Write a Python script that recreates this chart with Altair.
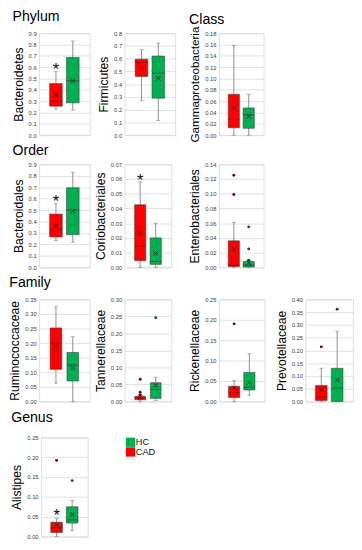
import altair as alt
import pandas as pd

GROUPS = ["CAD", "HC"]
BOX_COLORS = ["#FF0000", "#00B050"]
DARK_COLORS = ["#7A0000", "#1A5230"]
MEDIAN_COLORS = ["#8B0000", "#1F3D2A"]

# stats order: whisker low, Q1, median, Q3, whisker high, mean
bacteroidetes_cad = [0.23, 0.255, 0.30, 0.455, 0.56, 0.355]
bacteroidetes_hc = [0.22, 0.285, 0.48, 0.685, 0.83, 0.48]
firmicutes_cad = [0.27, 0.46, 0.57, 0.595, 0.67, 0.52]
firmicutes_hc = [0.115, 0.29, 0.485, 0.62, 0.72, 0.445]
gamma_cad = [0.0, 0.013, 0.028, 0.072, 0.158, 0.048]
gamma_hc = [0.0, 0.012, 0.036, 0.048, 0.072, 0.033]
bacteroidales_cad = [0.235, 0.265, 0.325, 0.465, 0.56, 0.36]
bacteroidales_hc = [0.22, 0.285, 0.50, 0.695, 0.83, 0.49]
corio_cad = [0.0, 0.0045, 0.0145, 0.0425, 0.058, 0.023]
corio_hc = [0.0, 0.002, 0.004, 0.020, 0.030, 0.0095]
entero_cad = [0.0, 0.001, 0.003, 0.036, 0.061, 0.025]
entero_hc = [0.0, 0.0005, 0.003, 0.008, 0.009, 0.006]
rumino_cad = [0.063, 0.11, 0.20, 0.252, 0.325, 0.188]
rumino_hc = [0.0, 0.07, 0.125, 0.168, 0.222, 0.115]
tannerella_cad = [0.0, 0.005, 0.010, 0.015, 0.02, 0.011]
tannerella_hc = [0.003, 0.009, 0.035, 0.055, 0.071, 0.047]
rikenella_cad = [0.0, 0.0095, 0.021, 0.037, 0.051, 0.033]
rikenella_hc = [0.015, 0.028, 0.035, 0.071, 0.117, 0.046]
prevotella_cad = [0.0, 0.004, 0.017, 0.062, 0.13, 0.045]
prevotella_hc = [0.0, 0.0, 0.052, 0.13, 0.275, 0.084]
alistipes_cad = [0.0, 0.01, 0.022, 0.036, 0.046, 0.030]
alistipes_hc = [0.015, 0.034, 0.042, 0.075, 0.091, 0.055]

# outliers
entero_out_cad = [0.125, 0.099]
entero_out_hc = [0.055, 0.025, 0.0095]
tannerella_out_cad = [0.065, 0.027, 0.019]
tannerella_out_hc = [0.246]
rikenella_out_cad = [0.19]
prevotella_out_cad = [0.214]
prevotella_out_hc = [0.361]
alistipes_out_cad = [0.192]
alistipes_out_hc = [0.141]

# significance markers (value of asterisk for CAD)
star_bacteroidetes = 0.61
star_bacteroidales = 0.605
star_corio = 0.0615
star_alistipes = 0.062

FONT = "Liberation Sans"
spacer_df = pd.DataFrame({"s": [0]})


def spacer(w=1, h=1):
    return alt.Chart(spacer_df).mark_point(opacity=0).encode(
        x=alt.value(0), y=alt.value(0)).properties(
        width=w, height=h, view=alt.ViewBackground(stroke=None))


def panel(name, cad, hc, ymax, ystep, dec, width, height, bw,
          out_cad=(), out_hc=(), star=None, section=None, sec_offset=6, title_size=12.5):
    df = pd.DataFrame({
        "g": GROUPS,
        "lo": [cad[0], hc[0]], "q1": [cad[1], hc[1]], "med": [cad[2], hc[2]],
        "q3": [cad[3], hc[3]], "hi": [cad[4], hc[4]], "mean": [cad[5], hc[5]],
    })
    gap = 1.0
    step = bw + gap
    pad = (width / step - 1) / 2
    xs = alt.X("g:N", scale=alt.Scale(type="point", domain=GROUPS, padding=pad), axis=None)
    n = int(round(ymax / ystep))
    ticks = [round(i * ystep, 4) for i in range(n + 1)]
    ysc = alt.Scale(domain=[0, ymax], nice=False, zero=True)
    yaxis = alt.Axis(values=ticks, format=f".{dec}f", labelFontSize=6, labelColor="#404040",
                     grid=True, gridColor="#D9D9D9", gridWidth=0.8, domain=False, ticks=False,
                     labelPadding=3, title=name, titleFontSize=title_size, titleFontWeight="normal",
                     titlePadding=3, titleColor="black", titleFont=FONT, labelFont=FONT)

    def Y(field):
        return alt.Y(field, type="quantitative", scale=ysc, axis=yaxis)

    base = alt.Chart(df)
    whisk = base.mark_rule(color="#8C8C8C", strokeWidth=1).encode(x=xs, y=Y("lo"), y2="hi:Q")
    cap_lo = base.mark_tick(size=4, thickness=1, color="#8C8C8C").encode(x=xs, y=Y("lo"))
    cap_hi = base.mark_tick(size=4, thickness=1, color="#8C8C8C").encode(x=xs, y=Y("hi"))
    box = base.mark_bar(width=bw, stroke="#404040", strokeWidth=0.6).encode(
        x=xs, y=Y("q1"), y2="q3:Q",
        fill=alt.Fill("g:N", scale=alt.Scale(domain=GROUPS, range=BOX_COLORS), legend=None))
    med = base.mark_tick(size=bw, thickness=1).encode(
        x=xs, y=Y("med"),
        color=alt.Color("g:N", scale=alt.Scale(domain=GROUPS, range=MEDIAN_COLORS), legend=None))
    mean = base.mark_point(shape="M-1,-1L1,1M-1,1L1,-1", size=22, strokeWidth=0.9,
                           color="#262626", filled=False, opacity=1).encode(x=xs, y=Y("mean"))
    layers = [whisk, cap_lo, cap_hi, box, med, mean]
    og = ["CAD"] * len(out_cad) + ["HC"] * len(out_hc)
    ov = list(out_cad) + list(out_hc)
    if ov:
        odf = pd.DataFrame({"g": og, "v": ov})
        outs = alt.Chart(odf).mark_circle(size=9, opacity=1).encode(
            x=xs, y=Y("v"),
            fill=alt.Fill("g:N", scale=alt.Scale(domain=GROUPS, range=DARK_COLORS), legend=None))
        layers.append(outs)
    if star is not None:
        sdf = pd.DataFrame({"g": ["CAD"], "v": [star]})
        st = alt.Chart(sdf).mark_text(text="*", fontSize=17, baseline="middle", dy=4,
                                      color="#111111", font=FONT).encode(x=xs, y=Y("v"))
        layers.append(st)
    ch = alt.layer(*layers).resolve_scale(color="independent", fill="independent").properties(
        width=width, height=height)
    if section:
        ch = ch.properties(title=alt.TitleParams(text=section, anchor="start", frame="bounds",
                                                 fontSize=14.5, fontWeight="normal", font=FONT,
                                                 color="black", offset=sec_offset))
    return ch


p_bacteroidetes = panel("Bacteroidetes", bacteroidetes_cad, bacteroidetes_hc, 0.9, 0.1, 1, 52, 105, 13,
                        star=star_bacteroidetes, section="Phylum", sec_offset=6)
p_firmicutes = panel("Firmicutes", firmicutes_cad, firmicutes_hc, 0.8, 0.1, 1, 52, 105, 13)
p_gamma = panel("Gammaproteobacteria", gamma_cad, gamma_hc, 0.18, 0.02, 2, 46, 105, 11.5,
                section="Class", sec_offset=-1, title_size=12)

p_bacteroidales = panel("Bacteroidales", bacteroidales_cad, bacteroidales_hc, 0.9, 0.1, 1, 52, 106, 13,
                        star=star_bacteroidales, section="Order", sec_offset=3.5)
p_corio = panel("Coriobacteriales", corio_cad, corio_hc, 0.07, 0.01, 2, 48, 106, 11.5, star=star_corio)
p_entero = panel("Enterobacteriales", entero_cad, entero_hc, 0.14, 0.02, 2, 46, 106, 11.5,
                 out_cad=entero_out_cad, out_hc=entero_out_hc)

p_rumino = panel("Ruminococcaceae", rumino_cad, rumino_hc, 0.35, 0.05, 2, 52, 105, 12,
                 section="Family", sec_offset=6.5)
p_tannerella = panel("Tannerellaceae", tannerella_cad, tannerella_hc, 0.30, 0.05, 2, 48, 105, 11,
                     out_cad=tannerella_out_cad, out_hc=tannerella_out_hc)
p_rikenella = panel("Rickenellaceae", rikenella_cad, rikenella_hc, 0.25, 0.05, 2, 47, 105, 11.5,
                    out_cad=rikenella_out_cad)
p_prevotella = panel("Prevotellaceae", prevotella_cad, prevotella_hc, 0.40, 0.05, 2, 49, 105, 12,
                     out_cad=prevotella_out_cad, out_hc=prevotella_out_hc)

p_alistipes = panel("Alistipes", alistipes_cad, alistipes_hc, 0.25, 0.05, 2, 48, 102, 12,
                    out_cad=alistipes_out_cad, out_hc=alistipes_out_hc, star=star_alistipes,
                    section="Genus", sec_offset=9.5)

legend_labels = ["HC", "CAD"]
legend_colors = ["#00B050", "#FF0000"]
ldf = pd.DataFrame({"g": legend_labels})
ly = alt.Y("g:N", scale=alt.Scale(domain=legend_labels, paddingInner=0, paddingOuter=0), axis=None)
lsq = alt.Chart(ldf).mark_square(size=92, opacity=1).encode(
    x=alt.value(6), y=ly,
    color=alt.Color("g:N", scale=alt.Scale(domain=legend_labels, range=legend_colors), legend=None))
ltx = alt.Chart(ldf).mark_text(align="left", baseline="middle", fontSize=9.5, font=FONT,
                               color="#111111").encode(x=alt.value(11.5), y=ly, text="g:N")
legend = alt.layer(lsq, ltx).properties(width=40, height=20, view=alt.ViewBackground(stroke=None))

S = spacer
cells = [
    p_bacteroidetes, S(36, 1), p_firmicutes, S(45, 1), p_gamma, S(42, 1), S(49, 1),
    S(1, 30), S(), S(), S(), S(), S(), S(),
    p_bacteroidales, S(), p_corio, S(), p_entero, S(), S(),
    S(1, 33), S(), S(), S(), S(), S(), S(),
    p_rumino, S(), p_tannerella, S(), p_rikenella, S(), p_prevotella,
    S(1, 37), S(), S(), S(), S(), S(), S(),
    p_alistipes, S(), legend, S(), S(), S(), S(),
]

chart = alt.concat(
    *cells, columns=7, spacing=0, bounds="flush", align="each",
    center=alt.RowColboolean(column=True, row=False),
    padding={"left": 0, "top": -7, "right": 0, "bottom": 0},
).configure_view(stroke="#A6A6A6", strokeWidth=1).configure(font=FONT)

chart.save("out.html", embed_options={"renderer": "svg", "actions": False})
